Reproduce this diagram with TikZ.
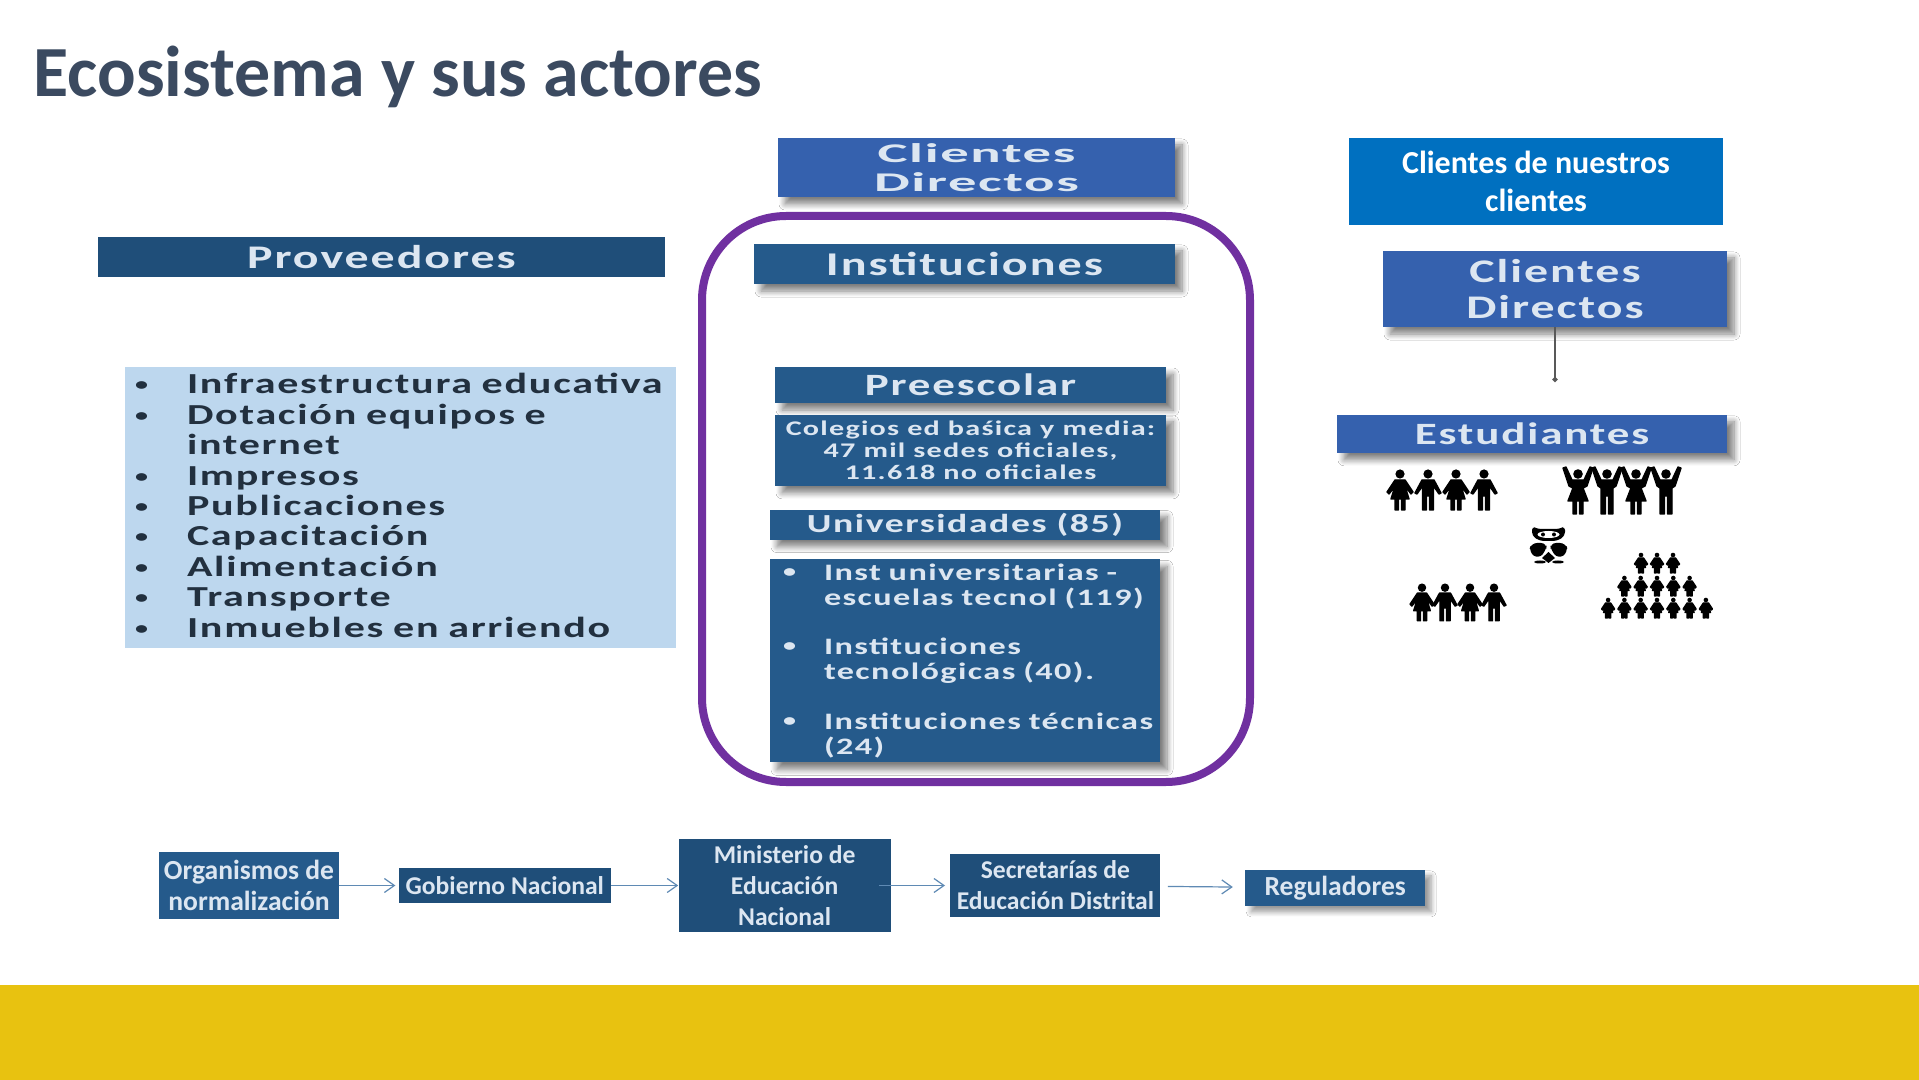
\documentclass[tikz,border=0pt]{standalone}
\usepackage{fontspec}
\setmainfont{Carlito}
\newfontfamily\widefont[FakeStretch=1.45,LetterSpace=6]{Carlito}
\newfontfamily\extrawidefont[FakeStretch=2.1,LetterSpace=6]{Carlito}
\usetikzlibrary{shapes,arrows,arrows.meta,positioning,shadows,shadows.blur}

\definecolor{titlecolor}{HTML}{3B4A60}
\definecolor{navybox}{HTML}{1F4E79}
\definecolor{steelbox}{HTML}{255A8B}
\definecolor{royalbox}{HTML}{3561AE}
\definecolor{brightbox}{HTML}{0070C0}
\definecolor{palebox}{HTML}{BDD7EE}
\definecolor{framecolor}{HTML}{7030A0}
\definecolor{barcolor}{HTML}{E8C210}
\definecolor{softtext}{HTML}{DCE6F1}
\definecolor{listtext}{HTML}{22303F}
\definecolor{flowline}{HTML}{5F8AB4}

\newcommand{\fs}[2]{\fontsize{#1}{#2}\selectfont}
\newcommand{\bul}[2]{\makebox[#1][l]{\raisebox{1.5pt}{\fontsize{9}{9}\selectfont\textbullet}}\mbox{#2}}

\tikzset{
  man/.pic={
    \fill (0,4) circle [radius=4.6];
    \filldraw [line width=0.7pt, line join=round] (-6,10) -- (6,10) -- (13,23) -- (11,24) -- (5.5,16) -- (5.5,40) -- (1.6,40) -- (1.6,26) -- (-1.6,26) -- (-1.6,40) -- (-5.5,40) -- (-5.5,16) -- (-11,24) -- (-13,23) -- cycle;
  },
  woman/.pic={
    \fill (0,4) circle [radius=4.6];
    \filldraw [line width=0.7pt, line join=round] (-5,10) -- (5,10) -- (13,22) -- (11,24) -- (5,16) -- (9,29) -- (5,29) -- (5,40) -- (1.6,40) -- (1.6,29) -- (-1.6,29) -- (-1.6,40) -- (-5,40) -- (-5,29) -- (-9,29) -- (-5,16) -- (-11,24) -- (-13,22) -- cycle;
  },
  cheerman/.pic={
    \fill (0,8) circle [radius=4.8];
    \filldraw [line width=0.7pt, line join=round] (-6,14) -- (-12,1) -- (-15,2) -- (-9,20) -- (-6,22) -- (-6,48) -- (-1.6,48) -- (-1.6,30) -- (1.6,30) -- (1.6,48) -- (6,48) -- (6,22) -- (9,20) -- (15,2) -- (12,1) -- (6,14) -- cycle;
  },
  cheerwoman/.pic={
    \fill (0,8) circle [radius=4.8];
    \filldraw [line width=0.7pt, line join=round] (-6,14) -- (-12,1) -- (-15,2) -- (-9,20) -- (-5,22) -- (-10,35) -- (-5,35) -- (-5,48) -- (-1.6,48) -- (-1.6,35) -- (1.6,35) -- (1.6,48) -- (5,48) -- (5,35) -- (10,35) -- (5,22) -- (9,20) -- (15,2) -- (12,1) -- (6,14) -- cycle;
  },
}

\begin{document}
\begin{tikzpicture}[x=0.5pt,y=-0.5pt]

\tikzstyle{panel} = [rectangle, inner sep=0pt, text centered, text=softtext, fill=steelbox,
    font=\widefont\bfseries, blur shadow={shadow xshift=3.5pt, shadow yshift=-3.5pt, shadow blur radius=3pt, shadow blur steps=8, shadow opacity=50}]
\tikzstyle{flowbox} = [rectangle, inner sep=0pt, align=center, text=softtext, fill=navybox,
    font=\bfseries\fs{12.8}{15.5}]
\tikzstyle{line} = [draw, flowline, line width=0.6pt, -{Straight Barb[length=5pt,width=7pt]}]

\useasboundingbox (0,0) rectangle (1919,1080);
\fill [white] (0,0) rectangle (1919,1080);
\fill [barcolor] (0,985) rectangle (1919,1080);

\node [anchor=base west, inner sep=0pt, text=titlecolor, font=\bfseries\fs{36}{40}] (title) at (33,97) {Ecosistema y sus actores};

\node [draw=framecolor, line width=4pt, rounded corners=42pt, minimum width=274pt, minimum height=283pt] (frame) at (976,499) {};

\node [panel, fill=royalbox, minimum width=198.5pt, minimum height=29.5pt, align=center, font=\extrawidefont\bfseries\fs{13.5}{14.5}] (directos) at (976.5,167.5) {Clientes\\Directos};
\node [rectangle, inner sep=0pt, fill=brightbox, text=white, align=center, minimum width=187pt, minimum height=43.5pt, font=\bfseries\fs{16}{19}] (nuestros) at (1536,181.5) {Clientes de nuestros\\clientes};

\node [rectangle, inner sep=0pt, fill=navybox, text=softtext, minimum width=283.5pt, minimum height=20pt, font=\widefont\bfseries\fs{16.5}{18}] (proveedores) at (381.5,257) {Proveedores};
\node [rectangle, fill=palebox, text=listtext, inner sep=0pt, inner xsep=5pt, text width=265.5pt, minimum height=140.5pt, align=left, font=\widefont\bfseries\fs{14.5}{15.2}] (insumos) at (400.5,507.5) {%
\bul{26pt}{Infraestructura educativa}\\
\bul{26pt}{Dotación equipos e}\\
\hspace*{26pt}internet\\
\bul{26pt}{Impresos}\\
\bul{26pt}{Publicaciones}\\
\bul{26pt}{Capacitación}\\
\bul{26pt}{Alimentación}\\
\bul{26pt}{Transporte}\\
\bul{26pt}{Inmuebles en arriendo}\vspace{2pt}};

\node [panel, minimum width=210.5pt, minimum height=20pt, font=\widefont\bfseries\fs{16.6}{18}] (instituciones) at (964.5,264) {Instituciones};
\node [panel, minimum width=195.5pt, minimum height=18pt, font=\widefont\bfseries\fs{15.5}{17}] (preescolar) at (970.5,385) {Preescolar};
\node [panel, below=5.5pt of preescolar, minimum width=195.5pt, minimum height=35.5pt, align=center, font=\widefont\bfseries\fs{10.4}{11.2}] (colegios) {Colegios ed baśica y media:\\47 mil sedes oficiales,\\11.618 no oficiales};
\node [panel, below=11.5pt of colegios, xshift=-2.75pt, minimum width=195pt, minimum height=15pt, font=\widefont\bfseries\fs{13}{15}] (universidades) {Universidades (85)};
\node [panel, below=9.5pt of universidades, inner xsep=6.5pt, text width=182pt, minimum height=101.5pt, align=left, font=\widefont\bfseries\fs{11.8}{12.4}] (tipos) {%
\bul{20.5pt}{Inst universitarias -}\\
\hspace*{20.5pt}escuelas tecnol (119)\\[12.4pt]
\bul{20.5pt}{Instituciones}\\
\hspace*{20.5pt}tecnológicas (40).\\[12.4pt]
\bul{20.5pt}{Instituciones técnicas}\\
\hspace*{20.5pt}(24)};

\node [panel, fill=royalbox, minimum width=172pt, minimum height=38pt, align=center, font=\widefont\bfseries\fs{16.5}{18}] (directosb) at (1555,289) {Clientes\\Directos};
\node [panel, fill=royalbox, below=43.5pt of directosb, xshift=-11.5pt, minimum width=195pt, minimum height=19pt, font=\widefont\bfseries\fs{15.5}{17}] (estudiantes) {Estudiantes};
\coordinate (remate) at (1555,382);
\draw [line width=0.9pt, black!65, -{Circle[length=2.5pt]}] (directosb.south) -- (remate);

% groups of students
\foreach \px/\kind in {1400/woman,1428/man,1456/woman,1484/man}
  \pic at (\px,470) {\kind};
\foreach \px/\kind in {1578/cheerwoman,1607/cheerman,1636/cheerwoman,1666/cheerman}
  \pic at (\px,466) {\kind};
\foreach \px/\kind in {1422/woman,1445/man,1470/woman,1494/man}
  \pic [scale=0.92] at (\px,584) {\kind};
\foreach \i in {-1,0,1}
  \pic [scale=0.5] at (1657+16*\i,553) {woman};
\foreach \i in {-2,...,2}
  \pic [scale=0.5] at (1657+16.3*\i,576) {woman};
\foreach \i in {-3,...,3}
  \pic [scale=0.5] at (1657+16.3*\i,598) {woman};

% owl
\fill [rounded corners=2] (1532,526) -- (1537,529) -- (1560,529) -- (1565,526) -- (1565,536) -- (1557,541) -- (1540,541) -- (1532,536) -- cycle;
\fill [white] (1548.5,534.5) ellipse [x radius=11, y radius=3.5];
\fill (1543,534.5) circle [radius=2];
\fill (1554,534.5) circle [radius=2];
\fill [rounded corners=3] (1531,543) -- (1547,543) -- (1546,551) -- (1538,559) -- (1529,552) -- cycle;
\fill [rounded corners=3] (1566,543) -- (1550,543) -- (1551,551) -- (1559,559) -- (1568,552) -- cycle;
\fill (1548.5,552) -- (1555,558) -- (1548.5,563) -- (1542,558) -- cycle;
\fill (1540,562) ellipse [x radius=6, y radius=1.5];
\fill (1558,562) ellipse [x radius=6, y radius=1.5];

\node [flowbox, fill=steelbox, minimum width=90pt, minimum height=33.5pt, font=\bfseries\fs{13.8}{15.5}] (organismos) at (249,885.5) {Organismos de\\normalización};
\node [flowbox, right=29.5pt of organismos, minimum width=106pt, minimum height=17.5pt] (gobierno) {Gobierno Nacional};
\node [flowbox, right=33.5pt of gobierno, minimum width=106pt, minimum height=46.5pt] (ministerio) {Ministerio de\\Educación\\Nacional};
\node [flowbox, right=29.5pt of ministerio, minimum width=105pt, minimum height=31.5pt] (secretarias) {Secretarías de\\Educación Distrital};
\node [flowbox, fill=steelbox, right=42pt of secretarias, yshift=-1.2pt, minimum width=90pt, minimum height=18pt, font=\bfseries\fs{13.8}{15.5}, blur shadow={shadow xshift=3pt, shadow yshift=-3pt, shadow blur radius=2.5pt, shadow blur steps=8, shadow opacity=40}] (reguladores) {Reguladores};

\path [line, shorten >=1.5pt] (organismos) -- (gobierno);
\path [line] (gobierno) -- (ministerio);
\path [line, shorten <=-6pt, shorten >=2.5pt] (ministerio) -- (secretarias);
\path [line, shorten <=3.5pt, shorten >=6pt] (secretarias) -- (reguladores);

\end{tikzpicture}
\end{document}
